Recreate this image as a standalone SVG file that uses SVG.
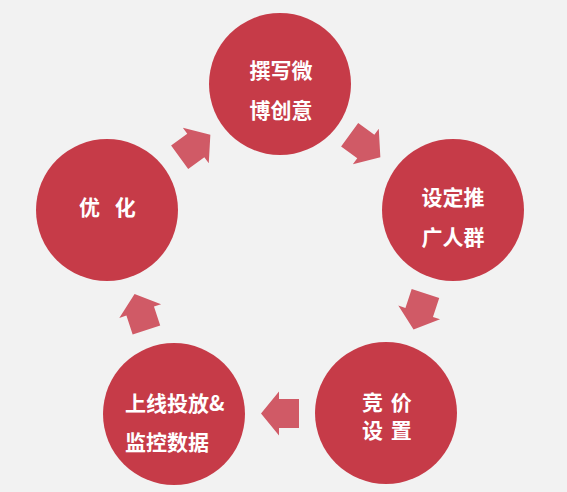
<svg xmlns="http://www.w3.org/2000/svg" width="567" height="492" viewBox="0 0 567 492">
  <defs>
    <style>
      .node { fill: #c63b48; }
      .arrow { fill: #d05a66; }
      .lbl { fill: #ffffff; font-family: "Noto Sans CJK SC", "Noto Sans", sans-serif; font-size: 21px; font-weight: bold; }
      .mid { text-anchor: middle; }
    </style>
    <polygon id="arr" points="19,0 1,-22 1,-14.5 -19,-14.5 -19,14.5 1,14.5 1,22"/>
  </defs>
  <rect width="567" height="492" fill="#f2f2f2"/>
  <g id="connectors">
    <use href="#arr" class="arrow" transform="translate(365,146) rotate(36.1)"/>
    <use href="#arr" class="arrow" transform="translate(419.5,311.5) rotate(108.3)"/>
    <use href="#arr" class="arrow" transform="translate(280,413.5) rotate(180)"/>
    <use href="#arr" class="arrow" transform="translate(140.5,312) rotate(-108.2)"/>
    <use href="#arr" class="arrow" transform="translate(195,146) rotate(-36.1)"/>
  </g>
  <g id="node-create">
    <circle class="node" cx="280" cy="84" r="71"/>
    <text class="lbl mid" x="281" y="78">撰写微</text>
    <text class="lbl mid" x="281" y="118">博创意</text>
  </g>
  <g id="node-target">
    <circle class="node" cx="453" cy="210" r="71"/>
    <text class="lbl mid" x="453" y="205">设定推</text>
    <text class="lbl mid" x="453" y="245">广人群</text>
  </g>
  <g id="node-bid">
    <circle class="node" cx="386" cy="413" r="71"/>
    <text class="lbl" x="362" y="410" letter-spacing="1.5">竞 价</text>
    <text class="lbl" x="362" y="438" letter-spacing="1.5">设 置</text>
  </g>
  <g id="node-launch">
    <circle class="node" cx="174" cy="414" r="71"/>
    <text class="lbl" x="125" y="411">上线投放&amp;</text>
    <text class="lbl" x="125" y="450">监控数据</text>
  </g>
  <g id="node-optimize">
    <circle class="node" cx="107" cy="210" r="71"/>
    <text class="lbl" x="79" y="215" letter-spacing="5">优 化</text>
  </g>
</svg>
